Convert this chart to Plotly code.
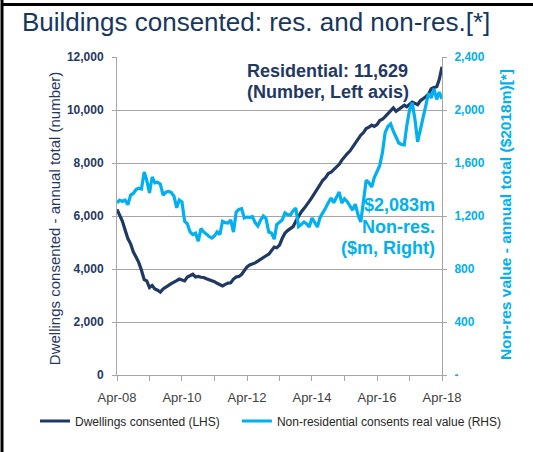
import pandas as pd
import plotly.graph_objects as go

# monthly, Apr-08 to Apr-18
months = pd.date_range("2008-04-01", "2018-04-01", freq="MS")

dwellings = [
    6250, 6050, 5800, 5470, 5150, 4950, 4650, 4450, 4250, 3950,
    3600, 3550, 3300, 3380, 3250, 3200, 3130, 3250, 3330, 3380,
    3450, 3490, 3560, 3620, 3580, 3550, 3700, 3740, 3800, 3700,
    3720, 3690, 3680, 3630, 3600, 3580, 3520, 3460, 3400, 3360,
    3420, 3470, 3480, 3620, 3700, 3720, 3800, 3950, 4080, 4150,
    4180, 4230, 4300, 4380, 4420, 4500, 4560, 4680, 4830, 4800,
    4900, 5150, 5350, 5450, 5520, 5600, 5800, 6000, 6150, 6280,
    6400, 6550, 6700, 6850, 7000, 7200, 7350, 7450, 7600, 7650,
    7750, 7850, 7950, 8100, 8250, 8350, 8450, 8600, 8750, 8900,
    9050, 9150, 9300, 9350, 9430, 9380, 9450, 9600, 9650, 9750,
    9850, 9950, 10080, 9950, 10020, 10100, 10180, 10120, 10200, 10300,
    10250, 10200, 10350, 10420, 10500, 10600, 10800, 10850, 10880, 11150,
    11629,
]

nonres = [
    1300, 1320, 1310, 1320, 1285, 1358, 1370, 1400, 1410, 1404,
    1532, 1470, 1374, 1494, 1450, 1455, 1440, 1358, 1380, 1385,
    1378, 1350, 1262, 1320, 1306, 1160, 1140, 1080, 1060, 1070,
    1010, 1105, 1080, 1060, 1045, 1034, 1050, 1079, 1060, 1160,
    1150, 1147, 1170, 1079, 1230, 1250, 1255, 1185, 1192, 1190,
    1195, 1150, 1125, 1170, 1200, 1180, 1079, 1072, 1025, 1135,
    1150, 1170, 1223, 1210, 1207, 1240, 1260, 1120, 1135, 1155,
    1140, 1117, 1185, 1150, 1117, 1190, 1220, 1260, 1300, 1336,
    1300, 1340, 1381, 1298, 1330, 1310, 1280, 1245, 1290, 1207,
    1155, 1306, 1470, 1450, 1419, 1490, 1530, 1580, 1680, 1830,
    1875, 1895, 1840, 1800, 1751, 1740, 1736, 1880, 2000, 2055,
    1930, 1760, 1850, 1950, 2030, 2125, 2091, 2160, 2080, 2136,
    2083,
]

left_ticks = [0, 2000, 4000, 6000, 8000, 10000, 12000]
left_labels = ["0", "2,000", "4,000", "6,000", "8,000", "10,000", "12,000"]
right_ticks = [0, 400, 800, 1200, 1600, 2000, 2400]
right_labels = ["-", "400", "800", "1,200", "1,600", "2,000", "2,400"]

NAVY = "#1F3864"
CYAN = "#00B0F0"
GRID = "#A6A6A6"
FONT = "Liberation Sans, Arial, sans-serif"

fig = go.Figure()
fig.add_trace(go.Scatter(x=months, y=dwellings, mode="lines",
                         name="Dwellings consented (LHS)", legend="legend",
                         line=dict(color=NAVY, width=3.2)))
fig.add_trace(go.Scatter(x=months, y=nonres, mode="lines", yaxis="y2",
                         name="Non-residential consents real value (RHS)", legend="legend2",
                         line=dict(color=CYAN, width=3.2)))

leg_font = dict(size=12, color="#262626")
fig.update_layout(
    width=533, height=452,
    margin=dict(l=117, r=91, t=57, b=77),
    paper_bgcolor="white", plot_bgcolor="white",
    font=dict(family=FONT, color="#404040"),
    showlegend=True,
    legend=dict(orientation="h", x=-0.2523, xanchor="left", y=-0.1447, yanchor="middle",
                font=leg_font, bgcolor="rgba(0,0,0,0)"),
    legend2=dict(orientation="h", x=0.369, xanchor="left", y=-0.1447, yanchor="middle",
                 font=leg_font, bgcolor="rgba(0,0,0,0)"),
    xaxis=dict(
        range=[months[0], months[-1]],
        tickvals=months[::24], tickformat="%b-%y",
        tickfont=dict(size=13, color="#404040"),
        showgrid=False, showline=True, linecolor=GRID, linewidth=1,
        ticks="outside", ticklen=5, tickcolor=GRID, ticklabelstandoff=5,
        minor=dict(tickvals=months[12::24], ticks="outside", ticklen=5, tickcolor=GRID),
        zeroline=False,
    ),
    yaxis=dict(
        range=[0, 12000], tickvals=left_ticks, ticktext=left_labels,
        tickfont=dict(size=12, color=NAVY, weight="bold"),
        showgrid=True, gridcolor=GRID, gridwidth=1,
        showline=True, linecolor=GRID, linewidth=1,
        ticks="outside", ticklen=4, tickcolor=GRID, ticklabelstandoff=6,
        zeroline=False,
    ),
    yaxis2=dict(
        range=[0, 2400], tickvals=right_ticks, ticktext=right_labels,
        overlaying="y", side="right",
        tickfont=dict(size=12, color=CYAN, weight="bold"),
        showgrid=False, showline=True, linecolor=GRID, linewidth=1,
        ticks="outside", ticklen=4, tickcolor=GRID, ticklabelstandoff=5,
        zeroline=False,
    ),
)

fig.add_annotation(text="Buildings consented: res. and non-res.[*]",
                   xref="paper", yref="paper", x=-0.2985, y=1.11,
                   xanchor="left", yanchor="middle", showarrow=False,
                   font=dict(size=26, color="#17375E"))
fig.add_annotation(text="Dwellings consented - annual total (number)",
                   xref="paper", yref="paper", x=-0.19, y=0.494, textangle=-90,
                   xanchor="center", yanchor="middle", showarrow=False,
                   font=dict(size=15, color=NAVY))
fig.add_annotation(text="Non-res value - annual total ($2018m)[*]",
                   xref="paper", yref="paper", x=1.194, y=0.503, textangle=-90,
                   xanchor="center", yanchor="middle", showarrow=False,
                   font=dict(size=15.5, color=CYAN, weight="bold"))

# callout labels, one annotation per line: (text, centre y in px from top)
res_lines = [("Residential: 11,629", 71), ("(Number, Left axis)", 92)]
for txt, py in res_lines:
    fig.add_annotation(text=txt, xref="paper", yref="paper",
                       x=0.649, y=(375 - py) / 318, xanchor="center", yanchor="middle",
                       showarrow=False, font=dict(size=18, color=NAVY, weight="bold"))
nonres_lines = [("$2,083m", 205), ("Non-res.", 227), ("($m, Right)", 248)]
for txt, py in nonres_lines:
    fig.add_annotation(text=txt, xref="paper", yref="paper",
                       x=0.985, y=(375 - py) / 318, xanchor="right", yanchor="middle",
                       showarrow=False, font=dict(size=18, color=CYAN, weight="bold"))

# black frame lines at the left and top edges of the picture
fig.add_shape(type="line", xref="paper", yref="paper",
              x0=-0.3538, x1=-0.3538, y0=-0.2421, y1=1.1792,
              line=dict(color="black", width=3))
fig.add_shape(type="line", xref="paper", yref="paper",
              x0=-0.3538, x1=1.28, y0=1.1651, y1=1.1651,
              line=dict(color="black", width=3))

fig.write_html("out.html", config={"displayModeBar": False},
               post_script="document.body.style.margin = '0';")
